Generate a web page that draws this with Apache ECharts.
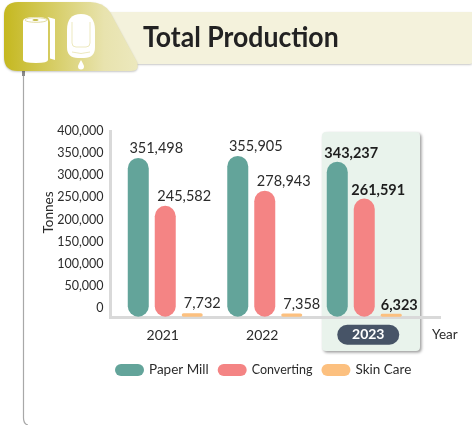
<!DOCTYPE html>
<html><head><meta charset="utf-8">
<style>html,body{margin:0;padding:0;background:#fff}#c{width:472px;height:425px}</style>
<script src="https://cdn.jsdelivr.net/npm/echarts@6/dist/echarts.min.js"></script>
</head><body><div id="c"></div>
<script>
const years = ['2021','2022','2023'];
const paperMill = [351498,355905,343237];
const converting = [245582,278943,261591];
const skinCare = [7732,7358,6323];
const yTicks = [0,400000,50000];
const FONT = 'Lato';
const TXT = '#2b2b2b';
const fmt = v => v.toLocaleString('en-US');
const chart = echarts.init(document.getElementById('c'),null,{renderer:'canvas'});
let shapeId = 0;
function deco(d,z,style){
  const name='deco'+(shapeId++);
  echarts.graphic.registerShape(name,echarts.graphic.extendPath(d));
  return {type:name,z,style};
}
function barSeries(name,data,color,off,hiOff){
  return {name,type:'bar',xAxisIndex:0,yAxisIndex:0,barWidth:21,barGap:'28.5%',data:data.map((v,i)=>{
    const o={value:v};
    if(i===2) o.label={fontWeight:'bold',offset:hiOff,color:'#1e1e1e',fontSize:14.5};
    return o;}),
    itemStyle:{color,borderRadius:10.5},
    label:{show:true,position:'top',distance:2,offset:off,fontFamily:FONT,fontSize:14.5,color:TXT,formatter:p=>fmt(p.value)}};
}
chart.setOption({
  animation:false,
  textStyle:{fontFamily:FONT},
  grid:[{left:115.5,width:298.5,top:136.1,bottom:108.3},{left:110.5,width:300,top:131,height:177}],
  xAxis:[
    {type:'category',gridIndex:0,data:years,axisLine:{show:false},axisTick:{show:false},z:6,
     name:'Year',nameLocation:'end',nameGap:18,
     nameTextStyle:{fontFamily:FONT,fontSize:13.5,color:TXT,verticalAlign:'top',padding:[11,0,0,0]},
     axisLabel:{margin:8,interval:0,fontFamily:FONT,formatter:v=>v==='2023'?'{sp|}{hl|'+v+'}':'{n|'+v+'}{sq|}',
       rich:{n:{fontSize:14,color:TXT,fontFamily:FONT,height:21,lineHeight:21},sq:{width:5},sp:{width:8},
         hl:{fontSize:14,fontWeight:'bold',color:'#fff',fontFamily:FONT,backgroundColor:'#475467',borderRadius:10,width:62,height:20,align:'center'}}}},
    {type:'value',gridIndex:1,show:false}
  ],
  yAxis:[
    {type:'value',gridIndex:0,min:0,max:400000,show:false},
    {type:'value',gridIndex:1,min:yTicks[0],max:yTicks[1],interval:yTicks[2],
     axisLine:{show:false},axisTick:{show:false},splitLine:{show:false},
     name:'Tonnes',nameLocation:'middle',nameGap:55,nameMoveOverlap:false,
     nameTextStyle:{fontFamily:FONT,fontSize:13.5,color:TXT,padding:[0,0,0,14]},
     axisLabel:{margin:7,fontFamily:FONT,fontSize:12.5,color:TXT,formatter:fmt}}
  ],
  legend:{bottom:43,left:110,itemWidth:29,itemHeight:12,itemGap:9,
    icon:'path://M6,0H23A6,6,0,0,1,23,12H6A6,6,0,0,1,6,0Z',
    textStyle:{fontFamily:FONT,fontSize:13.5,color:TXT},
    data:['Paper Mill',{name:'Converting',textStyle:{fontSize:12.5}},'Skin Care']},
  series:[
    barSeries('Paper Mill',paperMill,'#63a49a',[18,0],[14,1]),
    barSeries('Converting',converting,'#f48484',[19,0],[14,1]),
    barSeries('Skin Care',skinCare,'#fcc07f',[10,0],[8,1])
  ],
  graphic:[
    deco('M100,12H472V63Q472,64 468,64H100Z',0,{fill:'#f4f2dc',shadowColor:'rgba(0,0,0,.22)',shadowBlur:2,shadowOffsetY:1}),
    deco('M23.5,72V418Q23.5,424 28,425',0,{fill:'none',stroke:'#a8a8a8',lineWidth:1.2}),
    {type:'rect',z:0,shape:{x:22,y:71,width:3,height:5},style:{fill:'#8a8a8a'}},
    deco('M18,2H90Q103,2 110,12L137,62Q140,71 131,71H18Q4,71 4,57V16Q4,2 18,2Z',1,
      {fill:new echarts.graphic.LinearGradient(0,0,1,0,[{offset:0,color:'#c5b81f'},{offset:.75,color:'#e8e3ae'},{offset:1,color:'#ece8bd'}]),
       shadowColor:'rgba(0,0,0,.22)',shadowBlur:2,shadowOffsetY:1}),
    deco('M23,21Q23,17 36,17Q48,17 48,21V60Q48,63 36,63Q23,63 23,60Z',2,{fill:'#fff'}),
    deco('M47.5,17L55,19V60L50,58.5V22Q50,19 47.5,17Z',2,{fill:'#fff'}),
    {type:'ellipse',z:3,shape:{cx:36,cy:20,rx:11,ry:2.3},style:{fill:'none',stroke:'#d9d184',lineWidth:.8}},
    {type:'ellipse',z:3,shape:{cx:35.5,cy:20,rx:3,ry:1},style:{fill:'#c8bf50'}},
    deco('M67,30Q67,14 81,14Q95,14 95,30V47Q95,58 84,58H78Q67,58 67,47Z',2,{fill:'#fff'}),
    deco('M72,22V43Q72,47 76,47H86Q90,47 90,43V22',3,{fill:'none',stroke:'#e8e3ae',lineWidth:.8}),
    deco('M72,52Q81,55 90,52',3,{fill:'none',stroke:'#e8e3ae',lineWidth:.8}),
    deco('M81,60Q84,65 84,66.5A3,3,0,0,1,78,66.5Q78,65 81,60Z',2,{fill:'#fff'}),
    {type:'text',z:4,x:143,y:38,scaleX:.95,style:{text:'Total Production',fontFamily:FONT,fontWeight:'bold',fontSize:28,fill:'#222',verticalAlign:'middle'}},
    {type:'rect',z:0,shape:{x:322,y:132,width:98,height:219,r:4},style:{fill:'#e9f3ec',shadowColor:'rgba(0,0,0,.4)',shadowBlur:3,shadowOffsetX:1.5,shadowOffsetY:1.5}},
    {type:'line',z:1,shape:{x1:110.5,y1:130,x2:110.5,y2:319},style:{stroke:'#d9d9d9',lineWidth:3}},
    {type:'line',z:1,shape:{x1:109,y1:317.5,x2:441,y2:317.5},style:{stroke:'#d9d9d9',lineWidth:3}}
  ]
});
</script></body></html>
